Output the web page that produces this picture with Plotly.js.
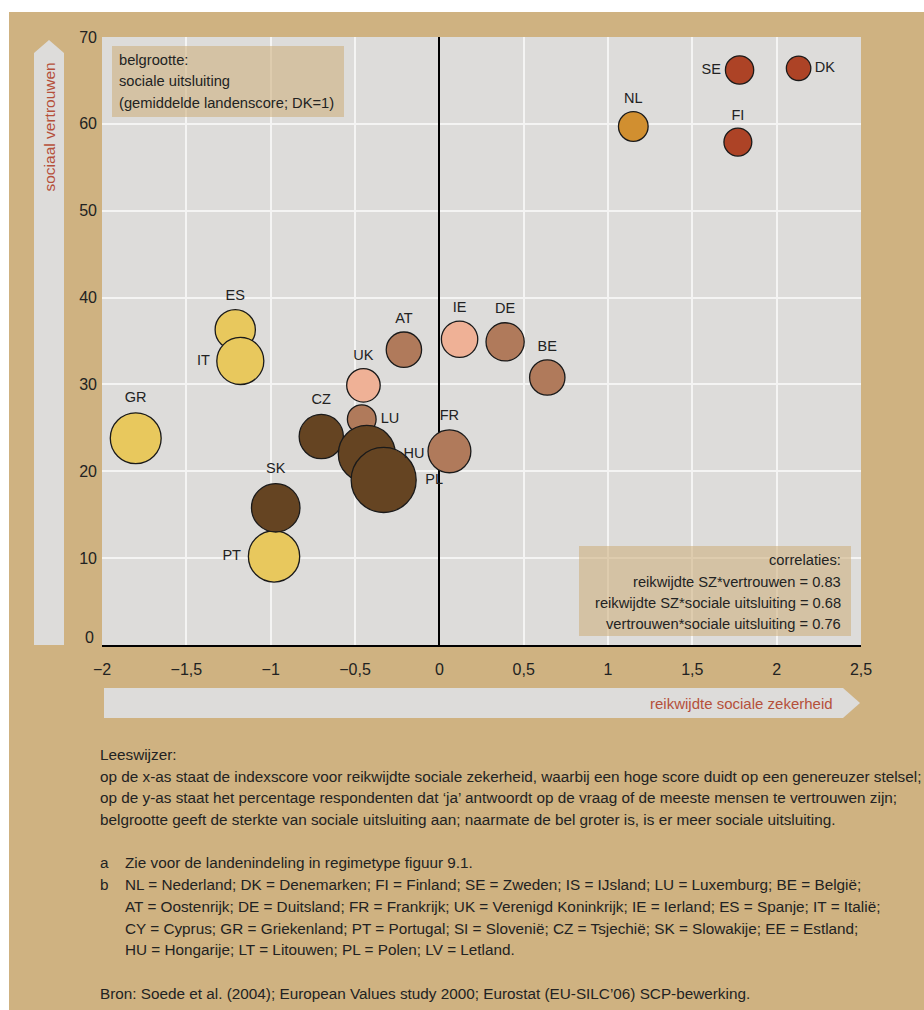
<!DOCTYPE html>
<html><head><meta charset="utf-8">
<script src="https://cdn.plot.ly/plotly-3.0.1.min.js"></script>
<style>html,body{margin:0;padding:0;background:#fff}#chart{width:924px;height:1010px}</style>
</head><body><div id="chart"></div>
<script>
// ---------- data ----------
const landen      = ['SE','DK','FI','NL','IE','UK','AT','DE','BE','FR','LU','ES','IT','GR','PT','CZ','HU','PL','SK'];
const reikwijdte  = [1.78, 2.13, 1.77, 1.15, 0.12, -0.45, -0.21, 0.39, 0.64, 0.06, -0.46, -1.21, -1.18, -1.80, -0.98, -0.70, -0.43, -0.33, -0.97];
const vertrouwen  = [66.2, 66.4, 57.9, 59.7, 35.2, 29.9, 34.0, 34.9, 30.8, 22.3, 26.0, 36.3, 32.7, 23.8, 10.2, 24.0, 22.0, 19.0, 15.8];
const uitsluiting = [1.34, 1.00, 1.30, 1.47, 2.21, 1.88, 2.09, 2.44, 2.09, 3.07, 1.38, 2.71, 3.70, 4.33, 4.40, 3.27, 5.43, 7.07, 3.93];
const regime      = ['noords','noords','noords','hybride','liberaal','liberaal','continentaal','continentaal','continentaal','continentaal','continentaal',
                     'zuidelijk','zuidelijk','zuidelijk','zuidelijk','oostelijk','oostelijk','oostelijk','oostelijk'];

const xTickVals = [-2, -1.5, -1, -0.5, 0, 0.5, 1, 1.5, 2, 2.5];
const xTickText = ['\u22122','\u22121,5','\u22121','\u22120,5','0','0,5','1','1,5','2','2,5'];
const yTickVals = [0, 10, 20, 30, 40, 50, 60, 70];
const yTickText = ['0','10','20','30','40','50','60','70'];

const xTitel = 'reikwijdte sociale zekerheid';
const yTitel = 'sociaal vertrouwen';
const legendaRegels = ['belgrootte:', 'sociale uitsluiting', '(gemiddelde landenscore; DK=1)'];
const correlatieRegels = ['correlaties:', 'reikwijdte SZ*vertrouwen = 0.83', 'reikwijdte SZ*sociale uitsluiting = 0.68', 'vertrouwen*sociale uitsluiting = 0.76'];
const leeswijzerRegels = [
  'Leeswijzer:',
  'op de x-as staat de indexscore voor reikwijdte sociale zekerheid, waarbij een hoge score duidt op een genereuzer stelsel;',
  'op de y-as staat het percentage respondenten dat \u2018ja\u2019 antwoordt op de vraag of de meeste mensen te vertrouwen zijn;',
  'belgrootte geeft de sterkte van sociale uitsluiting aan; naarmate de bel groter is, is er meer sociale uitsluiting.'
];
const noot_a = ['Zie voor de landenindeling in regimetype figuur 9.1.'];
const noot_b = [
  'NL = Nederland; DK = Denemarken; FI = Finland; SE = Zweden; IS = IJsland; LU = Luxemburg; BE = Belgi\u00eb;',
  'AT = Oostenrijk; DE = Duitsland; FR = Frankrijk; UK = Verenigd Koninkrijk; IE = Ierland; ES = Spanje; IT = Itali\u00eb;',
  'CY = Cyprus; GR = Griekenland; PT = Portugal; SI = Sloveni\u00eb; CZ = Tsjechi\u00eb; SK = Slowakije; EE = Estland;',
  'HU = Hongarije; LT = Litouwen; PL = Polen; LV = Letland.'
];
const bron = 'Bron: Soede et al. (2004); European Values study 2000; Eurostat (EU-SILC\u201906) SCP-bewerking.';

// ---------- style ----------
const kleur = {noords:'#ad4326', hybride:'#d18f30', liberaal:'#efb196', continentaal:'#b07a5b', zuidelijk:'#e8c85d', oostelijk:'#654422'};
const labelPos = {SE:'middle left', DK:'middle right', FI:'top center', NL:'top center', IE:'top center', UK:'top center',
  AT:'top center', DE:'top center', BE:'top center', FR:'top center', LU:'middle right', ES:'top center', IT:'middle left',
  GR:'top center', PT:'middle left', CZ:'top center', HU:'middle right', PL:'middle right', SK:'top center'};

const REG = '"Liberation Sans", Arial, sans-serif';
const BEIGE = '#cfb281', GRIJS = '#dddcda', TXT = '#222222', ROOD = '#b5503a';

const W = 924, H = 1010, L = 102, R = 861, T = 37, B = 645;
const px = x => (x - L) / (R - L);
const py = y => (B - y) / (B - T);

// ---------- traces ----------
const groepen = [...new Set(regime)];
const traces = groepen.map(g => {
  const idx = regime.map((r, i) => r === g ? i : -1).filter(i => i >= 0);
  return {
    type: 'scatter', mode: 'markers+text', showlegend: false, hoverinfo: 'skip', cliponaxis: false,
    x: idx.map(i => reikwijdte[i]), y: idx.map(i => vertrouwen[i]),
    text: idx.map(i => landen[i]), textposition: idx.map(i => labelPos[landen[i]]),
    textfont: {family: REG, size: 14.5, color: TXT},
    marker: {size: idx.map(i => uitsluiting[i]), sizemode: 'area', sizeref: 1 / 299, color: kleur[g],
             opacity: 1, line: {color: '#1a1a1a', width: 1.3}}
  };
});

// ---------- shapes ----------
const pth = pts => 'M ' + pts.map(p => px(p[0]) + ',' + py(p[1])).join(' L ') + ' Z';
const shapes = [
  {type:'rect', xref:'paper', yref:'paper', layer:'below', x0:px(9), x1:px(924), y0:py(1010), y1:py(12), fillcolor:BEIGE, line:{width:0}},
  {type:'rect', xref:'paper', yref:'paper', layer:'below', x0:0, x1:1, y0:0, y1:1, fillcolor:GRIJS, line:{width:0}},
  {type:'path', xref:'paper', yref:'paper', layer:'below', path:pth([[34,645],[34,53],[49,40],[64,53],[64,645]]), fillcolor:GRIJS, line:{width:0}},
  {type:'path', xref:'paper', yref:'paper', layer:'below', path:pth([[104,688],[843,688],[860,703],[843,718],[104,718]]), fillcolor:GRIJS, line:{width:0}},
  {type:'rect', xref:'paper', yref:'paper', layer:'above', x0:px(112), x1:px(344), y0:py(117), y1:py(46), fillcolor:'rgba(206,177,129,0.6)', line:{width:0}},
  {type:'rect', xref:'paper', yref:'paper', layer:'above', x0:px(579), x1:px(851), y0:py(636), y1:py(546), fillcolor:'rgba(206,177,129,0.6)', line:{width:0}}
];

// ---------- annotations ----------
const ann = (text, x, y, xanchor, font, extra) => Object.assign({
  text, xref:'paper', yref:'paper', x:px(x), y:py(y), xanchor, yanchor:'middle', showarrow:false,
  borderpad:0, borderwidth:0, font
}, extra || {});
const fBox = {family: REG, size: 14.7, color: TXT};
const fNoot = {family: REG, size: 15.3, color: TXT};
const annotations = [];
annotations.push(ann(yTitel, 49, 63, 'center', {family: REG, size: 15.5, color: ROOD}, {textangle: -90, yanchor: 'top'}));
annotations.push(ann(xTitel, 833, 703, 'right', {family: REG, size: 15, color: ROOD}));
legendaRegels.forEach((t, i) => annotations.push(ann(t, 119, 60 + i * 21.5, 'left', fBox)));
correlatieRegels.forEach((t, i) => annotations.push(ann(t, 841, 560.4 + i * 21.3, 'right', fBox)));
const LH = 21.7, Y0 = 754.4;
leeswijzerRegels.forEach((t, i) => annotations.push(ann(t, 100, Y0 + i * LH, 'left', fNoot)));
annotations.push(ann('a', 100, Y0 + 5 * LH, 'left', fNoot));
noot_a.forEach((t, i) => annotations.push(ann(t, 125, Y0 + (5 + i) * LH, 'left', fNoot)));
annotations.push(ann('b', 100, Y0 + 6 * LH, 'left', fNoot));
noot_b.forEach((t, i) => annotations.push(ann(t, 125, Y0 + (6 + i) * LH, 'left', fNoot)));
annotations.push(ann(bron, 100, Y0 + 11 * LH, 'left', fNoot));
// y tick label "0" sits slightly above the axis line
annotations.push({text: yTickText[0], xref:'paper', yref:'y', x:px(95), y:yTickVals[0], xanchor:'right', yanchor:'middle',
  yshift: 8, showarrow:false, borderpad:0, font:{family: REG, size: 16, color: TXT}});

const layout = {
  width: W, height: H, margin: {l: L, r: W - R, t: T, b: H - B, pad: 0},
  paper_bgcolor: '#ffffff', plot_bgcolor: 'rgba(0,0,0,0)',
  showlegend: false, hovermode: false,
  xaxis: {range: [-2, 2.5], tickvals: xTickVals, ticktext: xTickText, showgrid: true, gridcolor: '#f4f4f3', gridwidth: 2,
          zeroline: true, zerolinecolor: '#000', zerolinewidth: 2, showline: true, linecolor: '#000', linewidth: 2,
          ticks: '', ticklabelstandoff: 9, tickfont: {family: REG, size: 16, color: TXT}, fixedrange: true},
  yaxis: {range: [0, 70], tickvals: yTickVals.slice(1), ticktext: yTickText.slice(1), showgrid: true, gridcolor: '#f4f4f3', gridwidth: 2,
          zeroline: false, showline: false, ticks: '', ticklabelstandoff: 4, tickfont: {family: REG, size: 16, color: TXT}, fixedrange: true},
  shapes, annotations
};

Plotly.newPlot('chart', traces, layout, {displayModeBar: false, staticPlot: true});
</script>
</body></html>
